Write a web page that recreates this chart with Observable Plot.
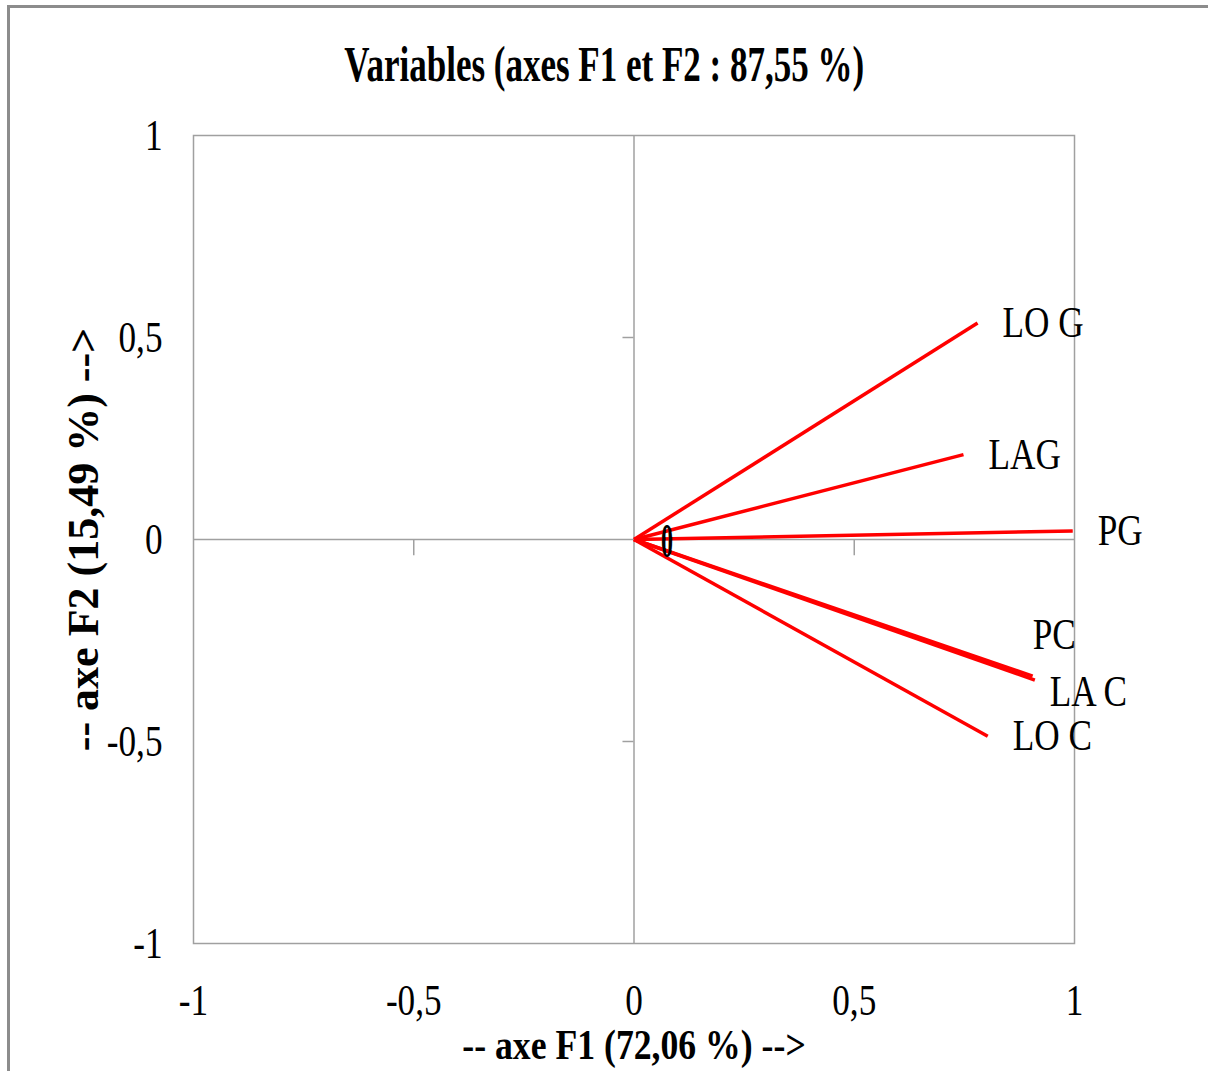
<!DOCTYPE html>
<html>
<head>
<meta charset="utf-8">
<script src="https://cdn.jsdelivr.net/npm/d3@7"></script>
<script src="https://cdn.jsdelivr.net/npm/@observablehq/plot@0.6"></script>
<style>
  html, body { margin: 0; padding: 0; background: #fff; }
  #page { position: relative; width: 1208px; height: 1071px; overflow: hidden; font-family: "Liberation Serif", serif; }
  #border { position: absolute; left: 7px; top: 5px; width: 1210px; height: 1063px; border-left: 3px solid #8c8c8c; border-top: 3px solid #8c8c8c; border-bottom: 1px solid #dcdcdc; }
  #title { position: absolute; left: 0; top: 34px; width: 1208px; text-align: center; }
  #title span { display: inline-block; font-weight: bold; font-size: 50px; line-height: 60px; transform: scaleX(0.7); transform-origin: center; white-space: nowrap; }
  #chart { position: absolute; left: 0; top: 100px; }
</style>
</head>
<body>
<div id="page">
  <div id="border"></div>
  <div id="title"><span>Variables (axes F1 et F2 : 87,55 %)</span></div>
  <div id="chart"></div>
</div>
<script>
// ---- data ----
const variables = ["LO G", "LAG", "PG", "PC", "LA C", "LO C"];
const f1 = [0.780, 0.748, 0.996, 0.905, 0.910, 0.803];
const f2 = [0.536, 0.210, 0.021, -0.338, -0.348, -0.487];
const xTicks = [-1, -0.5, 0, 0.5, 1];
const yTicks = [-1, -0.5, 0, 0.5, 1];
const innerTicks = [-0.5, 0.5];
const originLabel = ["0"];
const xTitle = "-- axe F1 (72,06 %) -->";
const yTitle = "-- axe F2 (15,49 %) -->";

const data = variables.map((name, i) => ({name, f1: f1[i], f2: f2[i]}));
const fmt = d => String(d).replace(".", ",");
const grey = "#a0a0a0";

const plot = Plot.plot({
  width: 1208,
  height: 971,
  marginTop: 35,
  marginBottom: 128,
  marginLeft: 193,
  marginRight: 134,
  x: {domain: [-1, 1]},
  y: {domain: [-1, 1]},
  style: {fontFamily: "'Liberation Serif', serif", color: "#000", background: "transparent"},
  marks: [
    Plot.frame({stroke: grey, strokeWidth: 1.5}),
    Plot.ruleX([0], {stroke: grey, strokeWidth: 1.5}),
    Plot.ruleY([0], {stroke: grey, strokeWidth: 1.5}),
    Plot.ruleX(innerTicks, {y1: 0, y2: -0.04, stroke: grey, strokeWidth: 1.5}),
    Plot.ruleY(innerTicks, {x1: -0.025, x2: 0, stroke: grey, strokeWidth: 1.5}),
    Plot.axisX({ticks: xTicks, tickSize: 0, tickPadding: 40, tickFormat: fmt, fontSize: 44, label: null}),
    Plot.axisY({ticks: yTicks, tickSize: 0, tickPadding: 31, tickFormat: fmt, fontSize: 44, label: null}),
    Plot.link(data, {x1: () => 0, y1: () => 0, x2: "f1", y2: "f2", stroke: "#ff0000", strokeWidth: 3.5}),
    Plot.text(data.filter(d => d.name !== "PC" && d.name !== "LA C"), {x: "f1", y: "f2", text: "name", textAnchor: "start", dx: 25, fontSize: 44}),
    Plot.text(data.filter(d => d.name === "PC"), {x: "f1", y: "f2", text: "name", textAnchor: "start", dx: 0, dy: -41, fontSize: 44}),
    Plot.text(data.filter(d => d.name === "LA C"), {x: "f1", y: "f2", text: "name", textAnchor: "start", dx: 15, dy: 12, fontSize: 44}),
    Plot.text(originLabel, {x: () => 0, y: () => 0, text: d => d, dx: 33, dy: 2, fontSize: 48, fontWeight: "bold"}),
    Plot.text([xTitle], {frameAnchor: "bottom", text: d => d, dy: 102, textAnchor: "middle", lineAnchor: "middle", fontSize: 42, fontWeight: "bold"}),
    Plot.text([yTitle], {frameAnchor: "left", text: d => d, dx: -110, rotate: -90, textAnchor: "middle", lineAnchor: "middle", fontSize: 44, fontWeight: "bold"})
  ]
});

document.getElementById("chart").appendChild(plot);

// horizontal compression of the condensed-looking serif texts:
// wrap each text in a group that scales about the text's anchor point
const NS = "http://www.w3.org/2000/svg";
Array.from(plot.querySelectorAll("text")).forEach(t => {
  const tr = t.getAttribute("transform") || "";
  if (/rotate/.test(tr)) return;
  let s = 0.8;
  if (t.textContent === "0" && t.closest("g") && t.closest("g").getAttribute("font-weight") === "bold") s = 0.5;
  if (t.textContent === xTitle) s = 0.85;
  const x = parseFloat(t.getAttribute("x")) || 0, y = parseFloat(t.getAttribute("y")) || 0;
  const list = t.transform.baseVal;
  const c = list.numberOfItems ? list.consolidate() : null;
  const m = c ? c.matrix : {a: 1, b: 0, c: 0, d: 1, e: 0, f: 0};
  const ax = m.a * x + m.c * y + m.e;
  const g = document.createElementNS(NS, "g");
  g.setAttribute("transform", `translate(${ax},0) scale(${s},1) translate(${-ax},0)`);
  t.parentNode.insertBefore(g, t);
  g.appendChild(t);
});
</script>
</body>
</html>
